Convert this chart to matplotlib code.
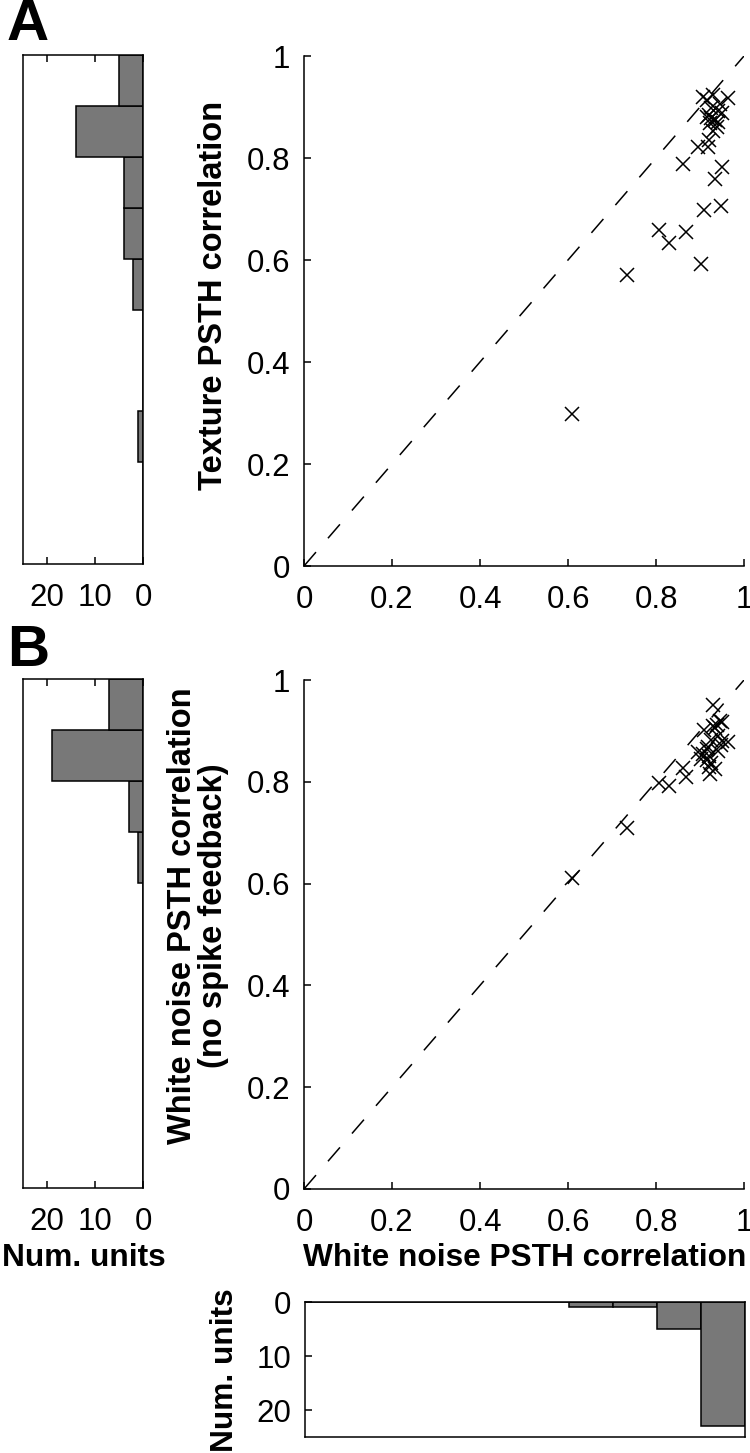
import matplotlib
matplotlib.use("Agg")
import matplotlib.pyplot as plt
import numpy as np

plt.rcParams['font.family'] = ['Liberation Sans', 'DejaVu Sans']

# ---------------- data ----------------
white_noise_corr = [0.609, 0.733, 0.807, 0.830, 0.862, 0.868, 0.896,
                    0.902, 0.909, 0.947, 0.934, 0.949,
                    0.918, 0.926, 0.949, 0.915, 0.926, 0.923, 0.938, 0.930,
                    0.920, 0.940, 0.935, 0.942, 0.921,
                    0.915, 0.964, 0.930, 0.907, 0.945]
texture_corr = [0.299, 0.571, 0.659, 0.634, 0.788, 0.654, 0.822,
                0.592, 0.698, 0.705, 0.759, 0.783,
                0.822, 0.898, 0.888, 0.881, 0.878, 0.868, 0.861, 0.852,
                0.835, 0.870, 0.875, 0.892, 0.885,
                0.914, 0.917, 0.923, 0.920, 0.905]
nofb_corr = [0.611, 0.709, 0.798, 0.792, 0.827, 0.810, 0.859,
             0.845, 0.902, 0.872, 0.825, 0.918,
             0.869, 0.882, 0.880, 0.843, 0.837, 0.815, 0.912, 0.951,
             0.850, 0.860, 0.905, 0.890, 0.830,
             0.865, 0.879, 0.910, 0.855, 0.920]

bin_lo = [0.0, 0.1, 0.2, 0.3, 0.4, 0.5, 0.6, 0.7, 0.8, 0.9]
hist_texture = [0, 0, 1, 0, 0, 2, 4, 4, 14, 5]
hist_nofb = [0, 0, 0, 0, 0, 0, 1, 3, 19, 7]
hist_white = [0, 0, 0, 0, 0, 0, 1, 1, 5, 23]

ticks01 = [0, 0.2, 0.4, 0.6, 0.8, 1]
ticklabels01 = ['0', '0.2', '0.4', '0.6', '0.8', '1']
count_ticks = [0, 10, 20]

# ---------------- style ----------------
FS = 22.5
LFS = 23.5
HFS = 22.8
BAR = '#787878'
W, H = 750, 1453
fig = plt.figure(figsize=(W / 100, H / 100), dpi=100)


def ax_px(x0, y0, x1, y1):
    return fig.add_axes([x0 / W, 1 - y1 / H, (x1 - x0) / W, (y1 - y0) / H])


def style_scatter(ax):
    ax.set_xlim(0, 1)
    ax.set_ylim(0, 1)
    ax.spines['top'].set_visible(False)
    ax.spines['right'].set_visible(False)
    for s in ('left', 'bottom'):
        ax.spines[s].set_linewidth(1.1)
    ax.set_xticks(ticks01)
    ax.set_xticklabels(ticklabels01)
    ax.set_yticks(ticks01)
    ax.set_yticklabels(ticklabels01)
    ax.tick_params(direction='in', length=5, width=1.1, labelsize=FS)
    ax.tick_params(axis='x', pad=14)
    ax.tick_params(axis='y', pad=10)
    ax.plot([0, 1], [0, 1], color='black', lw=1.1, dashes=(12, 12))


def style_lefthist(ax, counts):
    centers = [b + 0.05 for b in bin_lo]
    ax.barh(centers, counts, height=0.1, left=0, color=BAR,
            edgecolor='black', linewidth=1.1, align='center')
    ax.set_xlim(25, 0)
    ax.set_ylim(0, 1)
    ax.set_yticks([])
    ax.set_xticks(count_ticks)
    ax.set_xticklabels([str(c) for c in count_ticks])
    ax.tick_params(axis='x', direction='in', length=5, width=1.1,
                   labelsize=FS, pad=14, top=True)
    for s in ax.spines.values():
        s.set_linewidth(1.1)


# ---------------- panel A ----------------
axhA = ax_px(23, 55, 143, 564)
style_lefthist(axhA, hist_texture)

axA = ax_px(304, 56, 744, 566)
style_scatter(axA)
axA.plot(white_noise_corr, texture_corr, linestyle='none', marker='x',
         color='black', markersize=10, markeredgewidth=1.1)
fig.text(214 / W, 1 - 295 / H, 'Texture PSTH correlation', rotation=90,
         ha='center', va='center', fontsize=LFS, fontweight='bold')

# ---------------- panel B ----------------
axhB = ax_px(23, 679, 143, 1188)
style_lefthist(axhB, hist_nofb)

axB = ax_px(304, 680, 744, 1189)
style_scatter(axB)
axB.plot(white_noise_corr, nofb_corr, linestyle='none', marker='x',
         color='black', markersize=10, markeredgewidth=1.1)
fig.text(198 / W, 1 - 916 / H,
         'White noise PSTH correlation\n(no spike feedback)', rotation=90,
         ha='center', va='center', fontsize=LFS, fontweight='bold',
         multialignment='center', linespacing=1.0)
fig.text(525 / W, 1 - 1258 / H, 'White noise PSTH correlation',
         ha='center', va='center', fontsize=HFS, fontweight='bold')
fig.text(84 / W, 1 - 1258 / H, 'Num. units',
         ha='center', va='center', fontsize=HFS, fontweight='bold')

# ---------------- bottom histogram ----------------
axb = ax_px(305, 1302, 745, 1437)
centers = [b + 0.05 for b in bin_lo]
axb.bar(centers, hist_white, width=0.1, bottom=0, color=BAR,
        edgecolor='black', linewidth=1.1, align='center')
axb.set_xlim(0, 1)
axb.set_ylim(25, 0)
axb.set_xticks([])
axb.set_yticks(count_ticks)
axb.set_yticklabels([str(c) for c in count_ticks])
axb.tick_params(axis='y', direction='in', length=5, width=1.1,
                labelsize=FS, pad=10)
for s in axb.spines.values():
    s.set_linewidth(1.1)
fig.text(225 / W, 1 - 1370 / H, 'Num. units', rotation=90,
         ha='center', va='center', fontsize=HFS, fontweight='bold')

# ---------------- panel letters ----------------
fig.text(7 / W, 1 - 40 / H, 'A', ha='left', va='baseline',
         fontsize=42, fontweight='bold')
fig.text(7 / W, 1 - 666 / H, 'B', ha='left', va='baseline',
         fontsize=42, fontweight='bold')

fig.savefig('out.png', dpi=100)
